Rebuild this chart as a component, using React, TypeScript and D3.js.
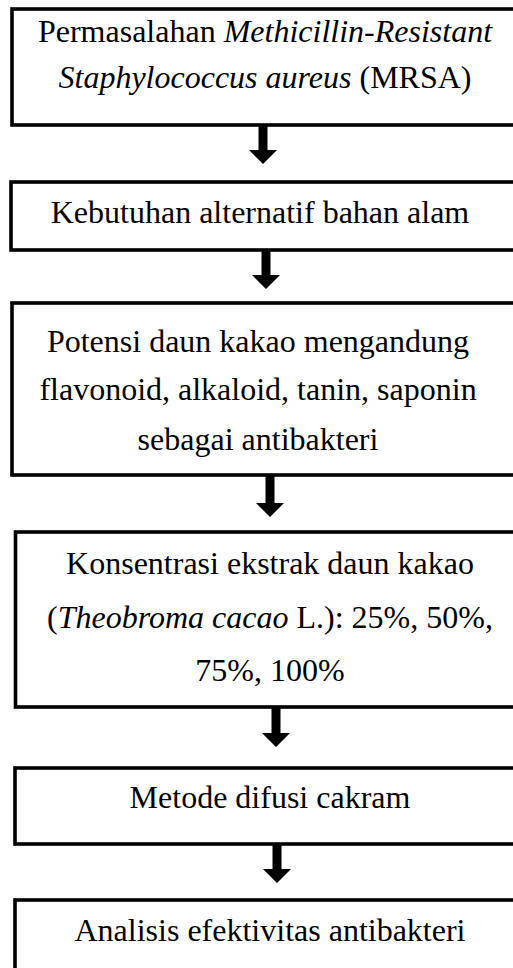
import React from "react";
import * as d3 from "d3";

type Seg = { t: string; i?: boolean };

// Flowchart content
const box1Lines: Seg[][] = [
  [{ t: "Permasalahan " }, { t: "Methicillin-Resistant", i: true }],
  [{ t: "Staphylococcus aureus", i: true }, { t: " (MRSA)" }],
];
const box2Lines: Seg[][] = [[{ t: "Kebutuhan alternatif bahan alam" }]];
const box3Lines: Seg[][] = [
  [{ t: "Potensi daun kakao mengandung" }],
  [{ t: "flavonoid, alkaloid, tanin, saponin" }],
  [{ t: "sebagai antibakteri" }],
];
const box4Lines: Seg[][] = [
  [{ t: "Konsentrasi ekstrak daun kakao" }],
  [{ t: "(" }, { t: "Theobroma cacao", i: true }, { t: " L.): 25%, 50%," }],
  [{ t: "75%, 100%" }],
];
const box5Lines: Seg[][] = [[{ t: "Metode difusi cakram" }]];
const box6Lines: Seg[][] = [[{ t: "Analisis efektivitas antibakteri" }]];

const steps = [box1Lines, box2Lines, box3Lines, box4Lines, box5Lines, box6Lines];

// Layout (pixels)
const W = 513;
const H = 968;
const layout = [
  { x: 12, top: 9, bottom: 125, cx: 265, base: [42, 88] },
  { x: 11, top: 182, bottom: 250, cx: 260, base: [223] },
  { x: 12, top: 303, bottom: 475, cx: 258, base: [352, 400, 450] },
  { x: 15.5, top: 532, bottom: 707, cx: 270, base: [574, 628, 681] },
  { x: 15, top: 768, bottom: 844, cx: 270, base: [808] },
  { x: 15, top: 900, bottom: 1010, cx: 270, base: [941] },
];
const arrowX = [263, 266, 270, 276, 277];
const arrowTip = [164, 289, 517, 747, 883];

export default function App() {
  const head = 14;
  const headW = 28;
  const shaftW = 9;
  return (
    <svg
      width={W}
      height={H}
      style={{ position: "absolute", left: 0, top: 0, background: "#fff" }}
      fontFamily="'Liberation Serif', 'Times New Roman', serif"
      fontSize={32}
    >
      <rect x={0} y={0} width={W} height={H} fill="#fff" />
      {steps.map((lines, k) => {
        const L = layout[k];
        return (
          <g key={k}>
            <rect
              x={L.x}
              y={L.top}
              width={W + 20 - L.x}
              height={L.bottom - L.top}
              fill="#fff"
              stroke="#000"
              strokeWidth={3.6}
            />
            {lines.map((segs, j) => (
              <text key={j} x={L.cx} y={L.base[j]} textAnchor="middle" fill="#000">
                {segs.map((s, m) => (
                  <tspan key={m} fontStyle={s.i ? "italic" : "normal"}>
                    {s.t}
                  </tspan>
                ))}
              </text>
            ))}
          </g>
        );
      })}
      {arrowX.map((cx, k) => {
        const y0 = layout[k].bottom + 1;
        const tip = arrowTip[k];
        const hy = tip - head;
        const p = d3.path();
        p.moveTo(cx - shaftW / 2, y0);
        p.lineTo(cx + shaftW / 2, y0);
        p.lineTo(cx + shaftW / 2, hy);
        p.lineTo(cx + headW / 2, hy);
        p.lineTo(cx, tip);
        p.lineTo(cx - headW / 2, hy);
        p.lineTo(cx - shaftW / 2, hy);
        p.closePath();
        return <path key={k} d={p.toString()} fill="#000" />;
      })}
    </svg>
  );
}
